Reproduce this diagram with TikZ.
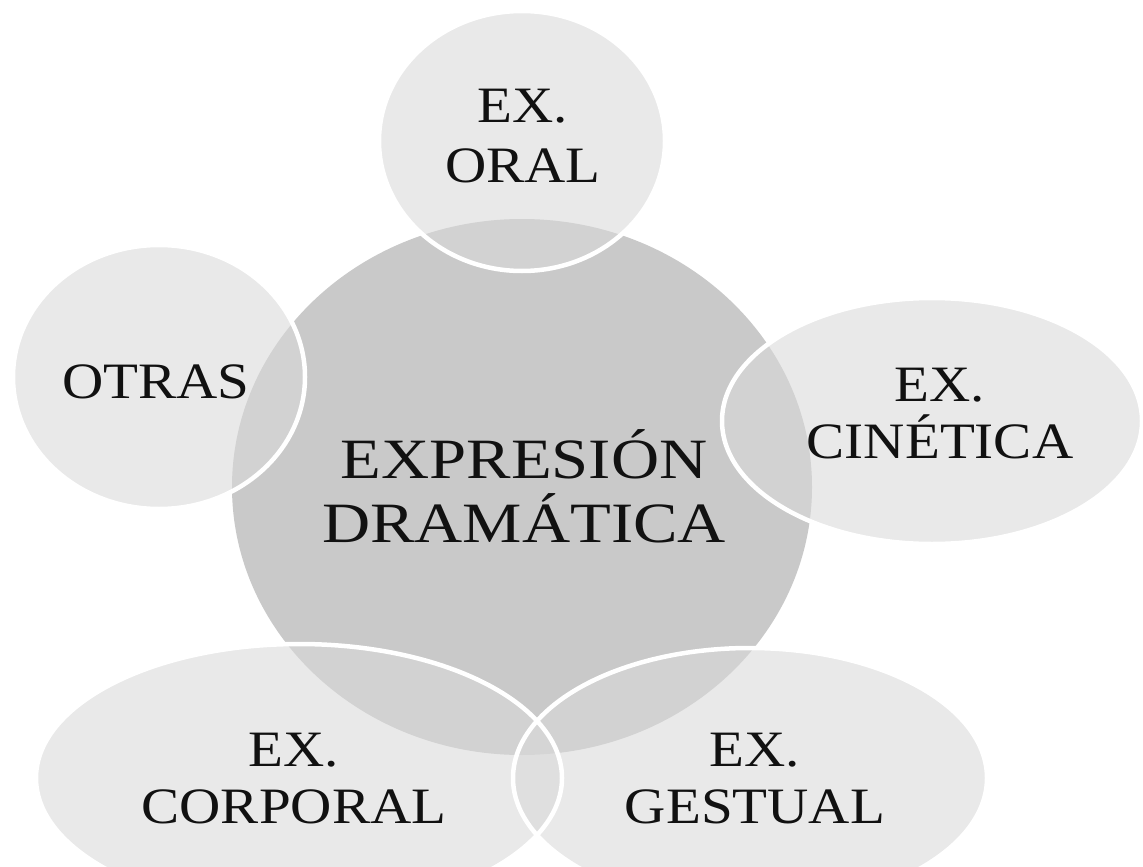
\documentclass[tikz,border=0pt]{standalone}
\usepackage{fontspec}
\setmainfont{Liberation Serif}
\newfontfamily\outerfont{Liberation Serif}[FakeStretch=1.12]
\newfontfamily\centerfont{Liberation Serif}[FakeStretch=1.17]
\usetikzlibrary{shapes.geometric}
\definecolor{centralgray}{RGB}{201,201,201}
\definecolor{outergray}{RGB}{217,217,217}
\definecolor{inkblack}{RGB}{17,17,17}
\begin{document}
\begin{tikzpicture}[x=1pt,y=-1pt,
  core/.style={ellipse, inner sep=0pt, fill=centralgray, draw=none},
  bubble/.style={ellipse, inner sep=0pt, fill=outergray, fill opacity=0.57, draw=none},
  rim/.style={draw=white, line width=4.5pt},
  lbl/.style={align=center, anchor=base, inner sep=0pt, text=inkblack,
    font=\outerfont\fontsize{51}{57}\selectfont},
  biglbl/.style={lbl, font=\centerfont\fontsize{57}{64}\selectfont}
]
\useasboundingbox (0,0) rectangle (1143,867);
\fill[white] (0,0) rectangle (1143,867);

% central circle
\node[core, minimum width=580pt, minimum height=536pt] (central) at (522,487) {};

% outer bubbles (fills)
\node[bubble, minimum width=286pt, minimum height=260pt] (oral) at (522,141) {};
\node[bubble, minimum width=420pt, minimum height=246pt] (cinetica) at (932,421) {};
\node[bubble, minimum width=292pt, minimum height=264pt] (otras) at (159,377) {};
\node[bubble, minimum width=526pt, minimum height=268pt] (corporal) at (299,778) {};
\node[bubble, minimum width=474pt, minimum height=260pt] (gestual) at (750,778) {};

% white rims
\draw[rim] (oral.center) ellipse [x radius=143, y radius=130];
\draw[rim] (cinetica.center) ellipse [x radius=210, y radius=123];
\draw[rim] (otras.center) ellipse [x radius=146, y radius=132];
\draw[rim] (corporal.center) ellipse [x radius=263, y radius=134];
\draw[rim] (gestual.center) ellipse [x radius=237, y radius=130];

% labels (base = baseline of the last line)
\node[lbl, font=\outerfont\fontsize{51}{60}\selectfont] (t-oral) at (523,182) {EX.\\ORAL};
\node[lbl] (t-cinetica) at (940,458) {EX.\\CINÉTICA};
\node[lbl] (t-otras) at (156,398) {OTRAS};
\node[lbl] (t-corporal) at (294,823) {EX.\\CORPORAL};
\node[lbl] (t-gestual) at (755,823) {EX.\\GESTUAL};
\node[biglbl] (t-central) at (524,542) {EXPRESIÓN\\DRAMÁTICA};
\end{tikzpicture}
\end{document}
